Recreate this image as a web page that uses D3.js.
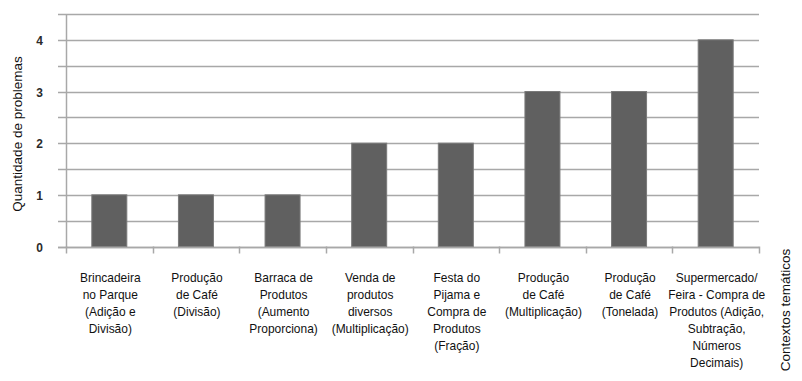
<!DOCTYPE html>
<html>
<head>
<meta charset="utf-8">
<script src="https://cdn.jsdelivr.net/npm/d3@7"></script>
<style>
  body { margin: 0; background: #fff; }
  svg { display: block; font-family: "Liberation Sans", Arial, sans-serif; }
</style>
</head>
<body>
<svg width="802" height="381"></svg>
<script>
// categories, one entry per bar, split in lines as in the picture
const categories = [
  ["Brincadeira", "no Parque", "(Adição e", "Divisão)"],
  ["Produção", "de Café", "(Divisão)"],
  ["Barraca de", "Produtos", "(Aumento", "Proporciona)"],
  ["Venda de", "produtos", "diversos", "(Multiplicação)"],
  ["Festa do", "Pijama e", "Compra de", "Produtos", "(Fração)"],
  ["Produção", "de Café", "(Multiplicação)"],
  ["Produção", "de Café", "(Tonelada)"],
  ["Supermercado/", "Feira - Compra de", "Produtos (Adição,", "Subtração,", "Números", "Decimais)"]
];
const values = [1, 1, 1, 2, 2, 3, 3, 4];
const yTicks = [0, 1, 2, 3, 4];
const gridTicks = [0, 0.5, 1, 1.5, 2, 2.5, 3, 3.5, 4, 4.5];
const yTitle = "Quantidade de problemas";
const xTitle = "Contextos temáticos";

const svg = d3.select("svg");
const plotLeft = 66, plotRight = 759, plotTop = 14, plotBottom = 246.5;
// the source picture is a bit stretched vertically, text too
const sx = 0.92;

const x = d3.scaleBand()
    .domain(d3.range(categories.length))
    .range([plotLeft, plotRight])
    .padding(0);

const y = d3.scaleLinear()
    .domain([0, 4.5])
    .range([plotBottom, plotTop]);

const gridColor = "#a8a8a8";
const barW = 35;

// gridlines (start a bit left of the axis, like tick marks)
svg.append("g")
    .selectAll("line")
    .data(gridTicks)
    .enter().append("line")
    .attr("x1", plotLeft - 8)
    .attr("x2", plotRight)
    .attr("y1", d => Math.round(y(d)) + 0.5)
    .attr("y2", d => Math.round(y(d)) + 0.5)
    .attr("stroke", gridColor)
    .attr("stroke-width", 1.5);

// bars
svg.append("g")
    .selectAll("rect")
    .data(values)
    .enter().append("rect")
    .attr("x", (d, i) => x(i) + x.bandwidth() / 2 - barW / 2)
    .attr("width", barW)
    .attr("y", d => y(d))
    .attr("height", d => y(0) - y(d))
    .attr("fill", "#606060")
    .attr("stroke", "#7a7a7a")
    .attr("stroke-width", 1);

// y axis line
svg.append("line")
    .attr("x1", plotLeft + 0.5).attr("x2", plotLeft + 0.5)
    .attr("y1", plotTop).attr("y2", plotBottom + 1)
    .attr("stroke", gridColor)
    .attr("stroke-width", 1.5);

// x axis line + ticks at band boundaries
svg.append("line")
    .attr("x1", plotLeft - 8).attr("x2", plotRight)
    .attr("y1", Math.round(plotBottom) + 0.5).attr("y2", Math.round(plotBottom) + 0.5)
    .attr("stroke", gridColor)
    .attr("stroke-width", 1.5);

const bounds = d3.range(categories.length + 1).map(i => i === categories.length ? plotRight : x(i));
svg.append("g")
    .selectAll("line")
    .data(bounds)
    .enter().append("line")
    .attr("x1", d => Math.round(d) + 0.5)
    .attr("x2", d => Math.round(d) + 0.5)
    .attr("y1", plotBottom)
    .attr("y2", plotBottom + 7)
    .attr("stroke", gridColor)
    .attr("stroke-width", 1.5);

// y tick labels
svg.append("g")
    .selectAll("text")
    .data(yTicks)
    .enter().append("text")
    .attr("transform", d => "translate(43," + (y(d) + 5) + ") scale(" + sx + ",1)")
    .attr("text-anchor", "end")
    .attr("font-size", 13)
    .attr("font-weight", "bold")
    .attr("fill", "#2a2a2a")
    .text(d => d);

// category labels
const lab = svg.append("g")
    .selectAll("text")
    .data(categories)
    .enter().append("text")
    .attr("text-anchor", "middle")
    .attr("font-size", 13)
    .attr("fill", "#111")
    .attr("transform", (d, i) => "translate(" + (x(i) + x.bandwidth() / 2 + 1) + ",282) scale(" + sx + ",1)");

lab.selectAll("tspan")
    .data(d => d)
    .enter().append("tspan")
    .attr("x", 0)
    .attr("y", (d, i) => i * 17)
    .text(d => d);

// axis titles
svg.append("text")
    .attr("transform", "translate(22,134) rotate(-90)")
    .attr("text-anchor", "middle")
    .attr("font-size", 13.5)
    .attr("fill", "#111")
    .text(yTitle);

svg.append("text")
    .attr("transform", "translate(790,310) rotate(-90)")
    .attr("text-anchor", "middle")
    .attr("font-size", 13.5)
    .attr("fill", "#111")
    .text(xTitle);
</script>
</body>
</html>
